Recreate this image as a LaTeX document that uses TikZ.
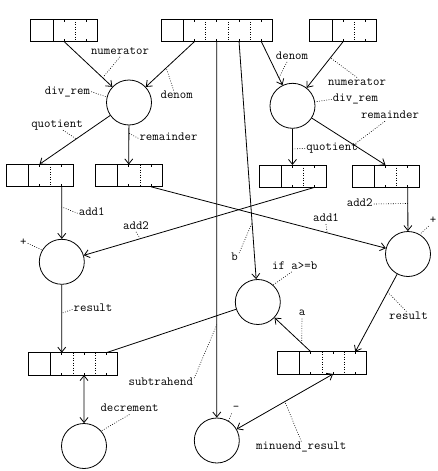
\documentclass[tikz,border=0pt]{standalone}
\usepackage{fontspec}
\usetikzlibrary{arrows.meta,calc}
\newcommand{\cw}{22.3}
\tikzset{
  recb/.style={draw, line width=0.8pt, minimum height=\cw pt, inner sep=0pt, outer sep=0pt},
  recl/.style={line width=0.8pt},
  recd/.style={line width=0.7pt, dash pattern=on 1pt off 1.5pt},
  fn/.style={circle, draw, line width=0.8pt, minimum size=45pt, inner sep=0pt},
  conn/.style={line width=0.8pt},
  arr/.style={conn, -{Straight Barb[length=5pt,width=8pt]}},
  darr/.style={conn, {Straight Barb[length=5pt,width=8pt]}-{Straight Barb[length=5pt,width=8pt]}},
  lbl/.style={font=\ttfamily\fontsize{12.5}{13}\selectfont, inner sep=1pt, text height=6.5pt, text depth=1.5pt},
  lead/.style={line width=0.6pt, dash pattern=on 0.8pt off 1.6pt}
}
\newcommand{\recbox}[4]{%
  \pgfmathsetmacro{\rbw}{(#4+1)*\cw}%
  \node[recb, minimum width=\rbw pt, anchor=north west] (#1) at (#2,#3) {};%
  \draw[recl] ($(#1.north west)+(\cw,0)$) -- ($(#1.south west)+(\cw,0)$);%
  \foreach \k in {2,...,#4}{\draw[recd] ($(#1.north west)+({\k*\cw},0)$) -- ($(#1.south west)+({\k*\cw},0)$);}%
  \foreach \k in {1,...,#4}{%
    \coordinate (#1-t\k) at ($(#1.north west)+({(\k+0.5)*\cw},0)$);%
    \coordinate (#1-b\k) at ($(#1.south west)+({(\k+0.5)*\cw},0)$);%
    \draw[recl] (#1-t\k) -- ++(0,2.5);%
    \draw[recl] (#1-b\k) -- ++(0,-2.5);%
  }%
}
\begin{document}
\begin{tikzpicture}[x=1pt,y=-1pt]
\useasboundingbox (0,0) rectangle (438,471);
% records
\recbox{TL}{30.7}{19.3}{2}
\recbox{TM}{161}{19.3}{4}
\recbox{TR}{309.7}{19.3}{2}
\recbox{BA}{6}{164.3}{2}
\recbox{BB}{95.3}{164.5}{2}
\recbox{BC}{259}{165}{2}
\recbox{BD}{352}{165}{2}
\recbox{LL}{28.3}{352.7}{3}
\recbox{LR}{277.3}{351.7}{3}
% function circles
\node[fn] (dr1) at (129,102.5) {};
\node[fn] (dr2) at (292.5,105.8) {};
\node[fn] (addL) at (61.8,261.8) {};
\node[fn] (addR) at (408,254) {};
\node[fn] (ifc) at (257.8,302) {};
\node[fn] (dec) at (84,446) {};
\node[fn] (minus) at (216.8,440.5) {};
% connectors
\draw[arr] (TL-b1) -- (dr1) coordinate[pos=0.8] (c-numL);
\draw[arr] (TM-b1) -- (dr1) coordinate[pos=0.58] (c-denL);
\draw[arr] (TM-b2) -- (minus) coordinate[pos=0.753] (c-sub);
\draw[arr] (TM-b3) -- (ifc) coordinate[pos=0.763] (c-b);
\draw[arr] (TM-b4) -- (dr2) coordinate[pos=0.83] (c-denR);
\draw[arr] (TR-b1) -- (dr2) coordinate[pos=0.35] (c-numR);
\draw[arr] (dr1) -- (BA-t1) coordinate[pos=0.48] (c-quoL);
\draw[arr] (dr1) -- (BB-t1) coordinate[pos=0.2] (c-remL);
\draw[arr] (dr2) -- (BC-t1) coordinate[pos=0.56] (c-quoR);
\draw[arr] (dr2) -- (BD-t1) coordinate[pos=0.57] (c-remR);
\draw[arr] (BA-b2) -- (addL) coordinate[pos=0.39] (c-a1L);
\draw[arr] (BD-b2) -- (addR) coordinate[pos=0.37] (c-a2R);
\draw[arr] (BB-b2) -- (addR) coordinate[pos=0.75] (c-a1R);
\draw[arr] (BC-b2) -- (addL) coordinate[pos=0.755] (c-a2L);
\draw[arr] (addL) -- (LL-t1) coordinate[pos=0.42] (c-resL);
\draw[arr] (addR) -- (LR-t3) coordinate[pos=0.23] (c-resR);
\draw[conn] (LL-t3) -- (ifc);
\draw[arr] (LR-t1) -- (ifc) coordinate[pos=0.25] (c-a);
\draw[darr] (LL-b2) -- (dec);
\draw[darr] (LR-b2) -- (minus) coordinate[pos=0.5] (c-min);
% labels
\node[lbl] (l-numL) at (120,51.7) {numerator};
\draw[lead] (l-numL.south) -- (c-numL);
\node[lbl] (l-denL) at (176.7,95.7) {denom};
\draw[lead] ($(l-denL.north)+(-3,0)$) -- (c-denL);
\node[lbl] (l-drL) at (67.5,91.7) {div\_rem};
\draw[lead] (l-drL.east) -- (dr1.166);
\node[lbl] (l-quoL) at (57,125) {quotient};
\draw[lead] ($(l-quoL.south)+(6,0)$) -- (c-quoL);
\node[lbl] (l-remL) at (168.5,138.3) {remainder};
\draw[lead] (l-remL.west) -- (c-remL);
\node[lbl] (l-denR) at (292,56.7) {denom};
\draw[lead] ($(l-denR.south)+(-5,0)$) -- (c-denR);
\node[lbl] (l-numR) at (357,82.7) {numerator};
\draw[lead] (l-numR.north) -- (c-numR);
\node[lbl] (l-drR) at (355.5,99.3) {div\_rem};
\draw[lead] (l-drR.west) -- (dr2.10);
\node[lbl] (l-remR) at (390,116) {remainder};
\draw[lead] ($(l-remR.south)+(-5,0)$) -- (c-remR);
\node[lbl] (l-quoR) at (332,148.3) {quotient};
\draw[lead] (l-quoR.west) -- (c-quoR);
\node[lbl] (l-a1L) at (91.7,213.3) {add1};
\draw[lead] (l-a1L.west) -- (c-a1L);
\node[lbl] (l-a2L) at (136,226.7) {add2};
\draw[lead] (l-a2L.south) -- (c-a2L);
\node[lbl] (l-plL) at (23.3,243.3) {+};
\draw[lead] (l-plL.east) -- (addL.149);
\node[lbl] (l-resL) at (93,309.3) {result};
\draw[lead] (l-resL.west) -- (c-resL);
\node[lbl] (l-a2R) at (359.7,204) {add2};
\draw[lead] (l-a2R.east) -- (c-a2R);
\node[lbl] (l-a1R) at (326,219) {add1};
\draw[lead] (l-a1R.south) -- (c-a1R);
\node[lbl] (l-plR) at (433,221) {+};
\draw[lead] (l-plR.south west) -- (addR.59);
\node[lbl] (l-b) at (234.7,258.3) {b};
\draw[lead] (l-b.north east) -- (c-b);
\node[lbl] (l-if) at (294.7,266.7) {if a>=b};
\draw[lead] ($(l-if.south)+(-3,0)$) -- (ifc.48);
\node[lbl] (l-a) at (302,313.3) {a};
\draw[lead] (l-a.south) -- (c-a);
\node[lbl] (l-resR) at (408.5,316.7) {result};
\draw[lead] ($(l-resR.north)+(-2,0)$) -- (c-resR);
\node[lbl] (l-sub) at (160.8,383.3) {subtrahend};
\draw[lead] (l-sub.north east) -- (c-sub);
\node[lbl] (l-dec) at (129.5,409.3) {decrement};
\draw[lead] (l-dec.south) -- (dec.41);
\node[lbl] (l-mi) at (236,408.3) {-};
\draw[lead] (l-mi.south west) -- (minus.59);
\node[lbl] (l-min) at (301.3,446.7) {minuend\_result};
\draw[lead] (l-min.north) -- (c-min);
\end{tikzpicture}
\end{document}
